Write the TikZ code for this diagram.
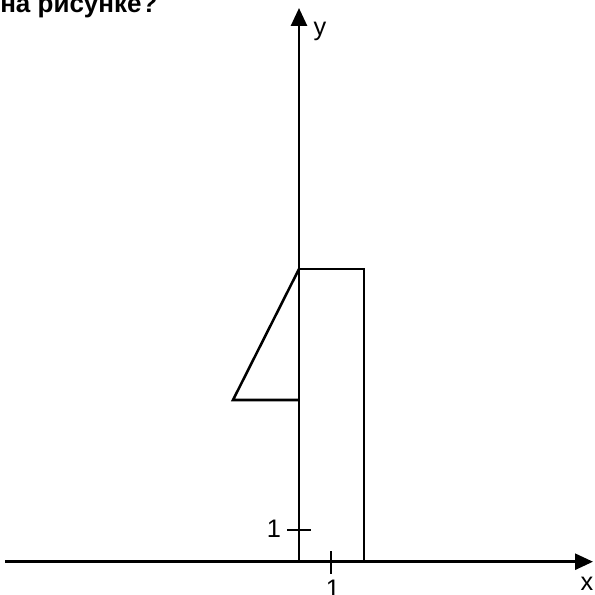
\documentclass[tikz,border=0pt]{standalone}
\usepackage{fontspec}
\setmainfont{Liberation Sans}
\usetikzlibrary{arrows.meta}
\tikzset{
  axis/.style={line width=2pt, -{Triangle[length=13.5pt,width=12pt]}},
  figline/.style={line width=1.9pt, line join=miter},
  tickline/.style={line width=1.9pt},
  lbl/.style={inner sep=0pt, font=\fontsize{19}{19}\selectfont},
  titletext/.style={inner sep=0pt, anchor=base west, font=\fontsize{19.5}{20}\selectfont\bfseries}
}
\begin{document}
\begin{tikzpicture}[x=0.75pt,y=-0.75pt]
\useasboundingbox (0,0) rectangle (594,595);
% axes
\coordinate (O) at (299,561.7);
\coordinate (xs) at (5,561.7);
\coordinate (xe) at (593,561.7);
\coordinate (ye) at (299,8);
\draw[axis] (xs) -- (xe);
\draw[axis] (O) -- (ye);
% ticks
\coordinate (ty1) at (287,530);
\coordinate (ty2) at (311,530);
\coordinate (tx1) at (331,551);
\coordinate (tx2) at (331,574);
\draw[tickline] (ty1) -- (ty2);
\draw[tickline] (tx1) -- (tx2);
% labels
\node[lbl] (ly) at (320,31) {y};
\node[lbl] (lx) at (587,584) {x};
\node[lbl] (l1y) at (274,529) {1};
\node[lbl] (l1x) at (333,589) {1};
\node[titletext] (t) at (0,13) {на рисунке?};
% rectangle
\coordinate (r1) at (299,561.7);
\coordinate (r2) at (299,269);
\coordinate (r3) at (364,269);
\coordinate (r4) at (364,561.7);
\draw[figline] (r1) -- (r2) -- (r3) -- (r4);
% triangle
\coordinate (a) at (299,269);
\coordinate (b) at (233,400);
\coordinate (c) at (299,400);
\draw[figline] (a) -- (b) -- (c);
\end{tikzpicture}
\end{document}
